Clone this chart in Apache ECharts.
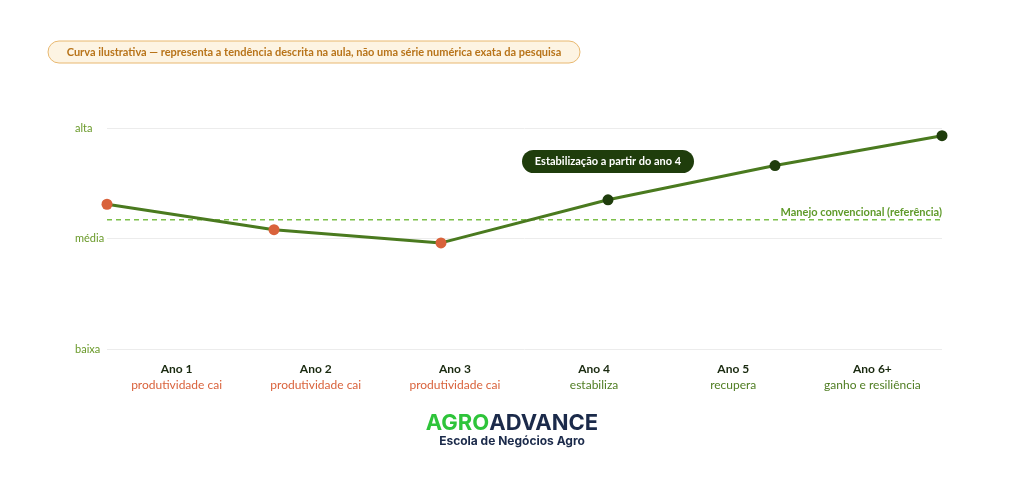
<!DOCTYPE html>
<html><head><meta charset="utf-8">
<script src="https://cdn.jsdelivr.net/npm/echarts@6/dist/echarts.min.js"></script>
<style>html,body{margin:0;background:#fff}#c{width:1024px;height:488px}</style>
</head><body><div id="c"></div>
<script>
const years = ['Ano 1','Ano 2','Ano 3','Ano 4','Ano 5','Ano 6+'];
const phases = ['produtividade cai','produtividade cai','produtividade cai','estabiliza','recupera','ganho e resiliência'];
const values = [1.31, 1.08, 0.96, 1.35, 1.66, 1.93];
const reference = 1.17;
const yTicks = ['baixa','média','alta'];
const orange = '#d9623b', dark = '#1f3d0c';
const chart = echarts.init(document.getElementById('c'));
chart.setOption({
  animation:false,
  textStyle:{fontFamily:'Lato, "Open Sans", sans-serif'},
  grid:{left:107,right:82,top:128,bottom:139},
  xAxis:[
    {type:'category',data:years,boundaryGap:true,position:'bottom',
     axisLine:{show:false},axisTick:{show:false},splitLine:{show:false},
     axisLabel:{interval:0,margin:12,lineHeight:16,formatter:(v,i)=>'{a|'+v+'}\n{'+(i<3?'o':'g')+'|'+phases[i]+'}',
       rich:{a:{fontWeight:'bold',fontSize:12,color:'#1a2a10',lineHeight:16},
             o:{fontSize:12,color:orange,lineHeight:16},g:{fontSize:12,color:'#4f7d22',lineHeight:16}}}},
    {type:'value',min:0,max:5,show:false}
  ],
  yAxis:{type:'value',min:0,max:2,interval:1,
    axisLine:{show:false},axisTick:{show:false},
    splitLine:{lineStyle:{color:'#ececec'}},
    axisLabel:{formatter:v=>yTicks[v],color:'#6a9a2a',fontSize:11,align:'left',margin:32}},
  graphic:[
    {type:'rect',shape:{x:48,y:41,width:532,height:22,r:11},style:{fill:'#fdf4e3',stroke:'#e8b870',lineWidth:1}},
    {type:'text',x:314,y:52,style:{text:'Curva ilustrativa — representa a tendência descrita na aula, não uma série numérica exata da pesquisa',
      fill:'#b8741a',fontSize:11,fontWeight:'bold',align:'center',verticalAlign:'middle',fontFamily:'Lato, sans-serif'}},
    {type:'rect',shape:{x:522,y:150,width:172,height:23,r:11.5},style:{fill:dark}},
    {type:'text',x:608,y:161.5,style:{text:'Estabilização a partir do ano 4',fill:'#fff',fontSize:11,fontWeight:'bold',align:'center',verticalAlign:'middle',fontFamily:'Lato, sans-serif'}},
    {type:'text',x:942,y:212,style:{text:'Manejo convencional (referência)',fill:'#5f9a2a',fontSize:11,fontWeight:'bold',align:'right',verticalAlign:'middle',fontFamily:'Lato, sans-serif'}},
    {type:'text',x:512,y:423,style:{text:'{g|AGR}{g|O}{d|ADVANCE}',align:'center',verticalAlign:'middle',
      rich:{g:{fill:'#2ec43a',fontSize:22,fontWeight:'bold',fontFamily:'Inter, sans-serif'},d:{fill:'#1b2a4a',fontSize:22,fontWeight:'bold',fontFamily:'Inter, sans-serif'}}}},
    {type:'text',x:512,y:441,style:{text:'Escola de Negócios Agro',fill:'#1b2a4a',fontSize:12,fontWeight:'bold',align:'center',verticalAlign:'middle',fontFamily:'Inter, sans-serif'}}
  ],
  series:[
    {type:'line',xAxisIndex:1,data:[[0,reference],[5,reference]],symbol:'none',silent:true,
     lineStyle:{color:'#7cbf4a',width:1.5,type:[5,4]}},
    {type:'line',xAxisIndex:1,data:values.map((v,i)=>[i,v]),symbol:'circle',symbolSize:11,
     lineStyle:{color:'#4a7a1f',width:3},
     itemStyle:{color:p=>p.dataIndex<3?orange:dark}}
  ]
});
</script></body></html>
